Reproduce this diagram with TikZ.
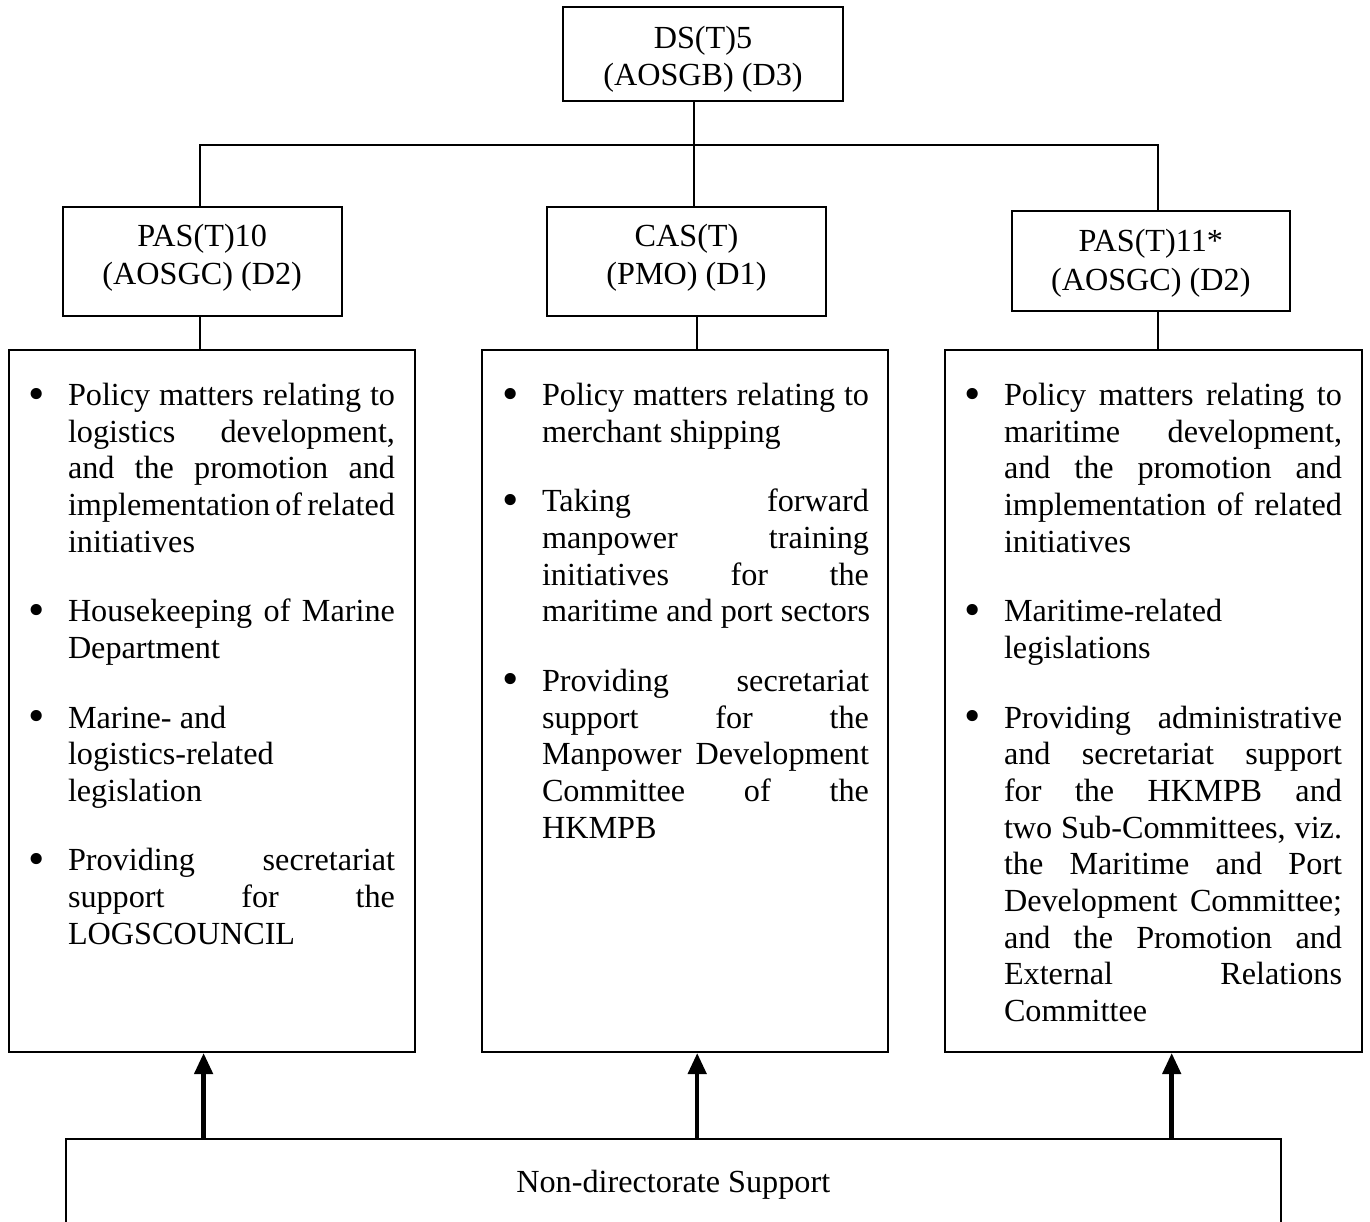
\documentclass[tikz,border=0pt]{standalone}
\usepackage{fontspec}
\usepackage{graphicx}
\setmainfont{Liberation Serif}
\usetikzlibrary{arrows.meta}
\newlength\bw
\newcommand\JL[1]{\hbox to\bw{#1}}
\newcommand\NL[1]{\hbox{#1}}
\newcommand\BU{\llap{\raisebox{-3.5pt}{\scalebox{1.45}{\textbullet}}\hskip 22.8pt}}
\newcommand\IG{\vskip 32.8pt}
\newcommand\bodyfont{\fontsize{32.2pt}{36.7pt}\selectfont\frenchspacing\spaceskip=.25em plus 1fil minus .12em\relax}
\newcommand\twoline[2]{\begin{tabular}[t]{@{}c@{}}#1\\#2\end{tabular}}
\begin{document}
\begin{tikzpicture}[x=1pt,y=-1pt,line width=2pt,
  headbox/.style={draw,inner sep=0pt,text height=0pt,minimum width=279pt},
  bigbox/.style={draw,inner sep=0pt,minimum height=702pt},
  bodytext/.style={anchor=base west,inner sep=0pt,font=\bodyfont},
  uparrow/.style={line width=4.5pt,-{Triangle[length=21pt,width=18pt]}}]
\useasboundingbox (0,0) rectangle (1370,1222);
\clip (0,0) rectangle (1370,1222);

% header boxes
\node[headbox,minimum width=280pt,minimum height=94pt,text depth=10.8pt,
  font=\fontsize{32.2pt}{37pt}\selectfont] (ds) at (703,53.7) {\twoline{DS(T)5}{(AOSGB) (D3)}};
\node[headbox,minimum height=109pt,text depth=29pt,
  font=\fontsize{32.2pt}{38.3pt}\selectfont] (pas10) at (202.2,261.2) {\twoline{PAS(T)10}{(AOSGC) (D2)}};
\node[headbox,minimum height=109pt,text depth=28.4pt,
  font=\fontsize{32.2pt}{38pt}\selectfont] (cas) at (686.5,261.2) {\twoline{CAS(T)}{(PMO) (D1)}};
\node[headbox,minimum width=278.3pt,minimum height=100pt,text depth=19pt,
  font=\fontsize{32.2pt}{38.8pt}\selectfont] (pas11) at (1150.8,261) {\twoline{PAS(T)11*}{(AOSGC) (D2)}};

% big boxes
\node[bigbox,minimum width=406pt] (b1) at (211.5,701) {};
\node[bigbox,minimum width=406pt] (b2) at (685,701) {};
\node[bigbox,minimum width=417pt] (b3) at (1153.5,701) {};

% bottom box
\node[draw,inner sep=0pt,minimum width=1215.5pt,minimum height=123pt,text height=0pt,text depth=17pt,
  font=\fontsize{32.2pt}{36.7pt}\selectfont] (nds) at (673.25,1200.5) {Non-directorate Support};

% connector x positions
\coordinate (xa) at (200,0);
\coordinate (xb) at (694,0);
\coordinate (xc) at (1158,0);
\coordinate (xd) at (696.5,0);
\coordinate (bary) at (0,145);
\coordinate (ax1) at (203.6,0);
\coordinate (ax2) at (697.2,0);
\coordinate (ax3) at (1171.7,0);

\draw (ds.south -| xb) -- (cas.north -| xb);
\draw (pas10.north -| xa) -- (xa |- bary) -- (xc |- bary) -- (pas11.north -| xc);
\draw (pas10.south -| xa) -- (b1.north -| xa);
\draw (cas.south -| xd) -- (b2.north -| xd);
\draw (pas11.south -| xc) -- (b3.north -| xc);

\draw[uparrow] (nds.north -| ax1) -- (b1.south -| ax1);
\draw[uparrow] (nds.north -| ax2) -- (b2.south -| ax2);
\draw[uparrow] (nds.north -| ax3) -- (b3.south -| ax3);

% body texts
\node[bodytext] (t1) at (67,405.5) {\setlength\bw{327pt}\vtop{%
\JL{\BU Policy matters relating to}
\JL{logistics development,}
\JL{and the promotion and}
\JL{implementation of related}
\NL{initiatives}
\IG
\JL{\BU Housekeeping of Marine}
\NL{Department}
\IG
\NL{\BU Marine- and}
\NL{logistics-related}
\NL{legislation}
\IG
\JL{\BU Providing secretariat}
\JL{support for the}
\NL{LOGSCOUNCIL}}};

\node[bodytext] (t2) at (541,405.5) {\setlength\bw{327pt}\vtop{%
\JL{\BU Policy matters relating to}
\NL{merchant shipping}
\IG
\JL{\BU Taking forward}
\JL{manpower training}
\JL{initiatives for the}
\NL{maritime and port sectors}
\IG
\JL{\BU Providing secretariat}
\JL{support for the}
\JL{Manpower Development}
\JL{Committee of the}
\NL{HKMPB}}};

\node[bodytext] (t3) at (1003,405.5) {\setlength\bw{338pt}\vtop{%
\JL{\BU Policy matters relating to}
\JL{maritime development,}
\JL{and the promotion and}
\JL{implementation of related}
\NL{initiatives}
\IG
\NL{\BU Maritime-related}
\NL{legislations}
\IG
\JL{\BU Providing administrative}
\JL{and secretariat support}
\JL{for the HKMPB and}
\JL{two Sub-Committees, viz.}
\JL{the Maritime and Port}
\JL{Development Committee;}
\JL{and the Promotion and}
\JL{External Relations}
\NL{Committee}}};
\end{tikzpicture}
\end{document}
